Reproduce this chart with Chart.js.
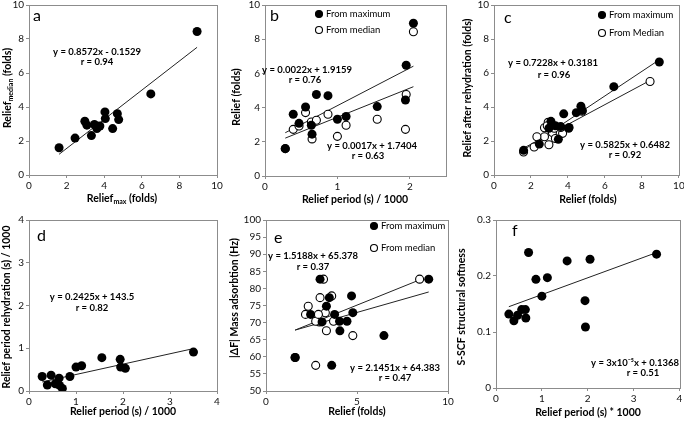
<!DOCTYPE html>
<html lang="en">
<head>
<meta charset="UTF-8" />
<title>Relief correlations</title>
<script src="https://cdn.jsdelivr.net/npm/chart.js"></script>
<style>
  body { margin: 0; background: #fff; }
  #fig { position: relative; width: 684px; height: 421px; }
  #fig canvas { position: absolute; }
</style>
</head>
<body>
<div id="fig">
  <canvas id="pa" width="228" height="205" style="left:0px;top:0px"></canvas>
  <canvas id="pb" width="228" height="205" style="left:228px;top:0px"></canvas>
  <canvas id="pc" width="228" height="205" style="left:456px;top:0px"></canvas>
  <canvas id="pd" width="228" height="216" style="left:0px;top:205px"></canvas>
  <canvas id="pe" width="228" height="216" style="left:228px;top:205px"></canvas>
  <canvas id="pf" width="228" height="216" style="left:456px;top:205px"></canvas>
</div>
<script>
// one entry per sample
const reliefMax      = [1.6, 3.61, 3.08, 4.04, 2.97, 2.45, 4.77, 4.7, 3.32, 3.48, 4.06, 4.45, 6.48, 8.94, 3.77];
const reliefMedian   = [1.6, 2.73, 2.93, 3.71, 3.16, 2.17, 3.26, 3.61, 2.32, 2.97, 3.32, 2.73, 4.77, 8.44, 2.88];
const reliefPeriod   = [0.28, 0.39, 0.47, 0.56, 0.64, 0.65, 0.71, 0.87, 1.0, 1.12, 1.55, 1.94, 1.95, 2.05, 3.5]; // s / 1000
const rehydPeriod    = [0.34, 0.14, 0.37, 0.17, 0.3, 0.13, 0.06, 0.34, 0.56, 0.59, 0.78, 0.74, 0.56, 0.53, 0.91];
const rehydFromMax   = [1.45, 2.85, 3.16, 2.75, 2.75, 1.82, 3.8, 4.05, 2.9, 2.1, 2.8, 3.67, 5.2, 6.65, 3.6];
const rehydFromMedian= [1.35, 2.25, 3.1, 2.45, 2.5, 1.65, 2.75, 2.8, 2.25, 1.78, 2.15, 2.78, 3.75, 5.5, 2.9];
const deltaF         = [59.8, 57.5, 70.2, 70.4, 82.7, 72.4, 72.9, 77.8, 74.8, 77.3, 67.6, 70.4, 66.2, 82.7, 72.4];
const softness       = [0.132, 0.12, 0.13, 0.14, 0.14, 0.125, 0.242, 0.194, 0.164, 0.197, 0.227, 0.156, 0.109, 0.23, 0.239];

// tick labels
const reliefTicks  = [0, 2, 4, 6, 8, 10];
const periodTicksB = [0, 1, 2];
const periodTicks  = [0, 1, 2, 3, 4];
const reliefTicksE = [0, 5, 10];
const deltaFTicks  = [50, 55, 60, 65, 70, 75, 80, 85, 90, 95, 100];
const softTicks    = [0, 0.1, 0.2, 0.3];

// trend lines [slope, intercept] as printed (b, d, f use seconds)
const fitA    = [0.8572, -0.1529];
const fitBMax = [0.0022, 1.9159];
const fitBMed = [0.0017, 1.7404];
const fitCMax = [0.7228, 0.3181];
const fitCMed = [0.5825, 0.6482];
const fitD    = [0.2425, 143.5];
const fitEMax = [1.5188, 65.378];
const fitEMed = [2.1451, 64.383];
const fitF    = [3e-5, 0.1368];

const FONT = 'Lato';
const TITLE = 'bold 10.5px ' + FONT;
const SUB = 'bold 7px ' + FONT;
const EQ = 'bold 9.5px ' + FONT;
const LEG = '9.5px ' + FONT;
const LETTER = '16px ' + FONT;

function pts(xs, ys, xmax) {
  return xs.map((x, i) => ({ x: x, y: ys[i] })).filter(p => xmax === undefined || p.x <= xmax);
}
// line endpoints over the x range of the shown points; xk/yk convert s -> s/1000
function trend(points, fit, xk, yk) {
  const xs = points.map(p => p.x);
  const lo = Math.min(...xs), hi = Math.max(...xs);
  const f = x => (fit[0] * x * xk + fit[1]) / yk;
  return [{ x: lo, y: f(lo) }, { x: hi, y: f(hi) }];
}
const filled = data => ({ data, pointRadius: 4.5, pointHoverRadius: 4.5, backgroundColor: '#000', borderColor: '#000', borderWidth: 0 });
const open = data => ({ data, pointRadius: 4, pointHoverRadius: 4, backgroundColor: '#fff', borderColor: '#000', borderWidth: 1.1 });
const line = data => ({ data, showLine: true, pointRadius: 0, borderColor: '#222', borderWidth: 1, fill: false });

function axis(pos, ticks, min, max, size) {
  return {
    type: 'linear', position: pos, min: min, max: max,
    afterBuildTicks: s => { s.ticks = ticks.map(v => ({ value: v })); },
    afterFit: s => {
      if (pos === 'left') { s.width = size; s.paddingTop = 0; s.paddingBottom = 0; }
      else { s.height = size; s.paddingLeft = 0; s.paddingRight = 0; }
    },
    grid: { display: true, drawOnChartArea: false, drawTicks: true, tickLength: 3, color: '#8c8c8c' },
    border: { display: true, color: '#8c8c8c', width: 1 },
    ticks: { color: '#111', font: { family: FONT, size: 10 }, padding: 2, maxRotation: 0, autoSkip: false }
  };
}

function rich(ctx, segs, x, y, rot, align) {
  ctx.save();
  ctx.translate(x, y);
  if (rot) ctx.rotate(-Math.PI / 2);
  let w = 0;
  segs.forEach(s => { ctx.font = s[1]; w += ctx.measureText(s[0]).width; });
  let cx = align === 'left' ? 0 : -w / 2;
  ctx.textBaseline = 'middle';
  ctx.textAlign = 'left';
  ctx.fillStyle = '#000';
  segs.forEach(s => { ctx.font = s[1]; ctx.fillText(s[0], cx, s[2] || 0); cx += ctx.measureText(s[0]).width; });
  ctx.restore();
}

function deco(d) {
  return {
    id: 'deco',
    afterDraw(chart) {
      const ctx = chart.ctx, a = chart.chartArea;
      const ox = d.ox, oy = d.oy;
      ctx.save();
      ctx.strokeStyle = '#8c8c8c';
      ctx.lineWidth = 1;
      ctx.strokeRect(Math.round(a.left) + 0.5, Math.round(a.top) + 0.5, Math.round(a.right - a.left), Math.round(a.bottom - a.top));
      ctx.restore();
      rich(ctx, d.xTitle, d.xAt[0] - ox, d.xAt[1] - oy, false);
      rich(ctx, d.yTitle, d.yAt[0] - ox, d.yAt[1] - oy, true);
      rich(ctx, [[d.letter[0], LETTER]], d.letter[1] - ox, d.letter[2] - oy, false, 'left');
      d.texts.forEach(t => rich(ctx, [[t[0], EQ]], t[1] - ox, t[2] - oy, false));
      (d.legend || []).forEach(l => {
        ctx.save();
        ctx.beginPath();
        ctx.arc(l[1] - ox, l[2] - oy, 3.5, 0, Math.PI * 2);
        ctx.fillStyle = l[3] ? '#000' : '#fff';
        ctx.fill();
        ctx.strokeStyle = '#000';
        ctx.lineWidth = 1.1;
        ctx.stroke();
        ctx.restore();
        rich(ctx, [[l[0], LEG]], l[1] + 7 - ox, l[2] - oy, false, 'left');
      });
    }
  };
}

function panel(id, box, area, datasets, xAx, yAx, d) {
  d.ox = box[0]; d.oy = box[1];
  new Chart(document.getElementById(id), {
    type: 'scatter',
    data: { datasets },
    options: {
      responsive: false, animation: false, events: [],
      layout: { padding: { left: 0, bottom: 0, top: area[1] - box[1], right: box[0] + box[2] - area[2] } },
      plugins: { legend: { display: false }, tooltip: { enabled: false } },
      scales: {
        x: axis('bottom', xAx[0], xAx[1], xAx[2], box[1] + box[3] - area[3]),
        y: axis('left', yAx[0], yAx[1], yAx[2], area[0] - box[0])
      }
    },
    plugins: [deco(d)]
  });
}

// a
const aPts = pts(reliefMax, reliefMedian);
panel('pa', [0, 0, 228, 205], [29, 5, 217, 175],
  [filled(aPts), line(trend(aPts, fitA, 1, 1))],
  [reliefTicks, 0, 10], [reliefTicks, 0, 10],
  { xTitle: [['Relief', TITLE], ['max', SUB, 3], [' (folds)', TITLE]], xAt: [122, 199],
    yTitle: [['Relief', TITLE], ['median', SUB, 3], [' (folds)', TITLE]], yAt: [8, 88],
    letter: ['a', 33, 16],
    texts: [['y = 0.8572x - 0.1529', 97, 52], ['r = 0.94', 97, 62]] });

// b
const bMax = pts(reliefPeriod, reliefMax, 2.5);
const bMed = pts(reliefPeriod, reliefMedian, 2.5);
panel('pb', [228, 0, 228, 205], [265, 5, 446, 176],
  [filled(bMax), open(bMed), line(trend(bMax, fitBMax, 1000, 1)), line(trend(bMed, fitBMed, 1000, 1))],
  [periodTicksB, 0, 2.5], [reliefTicks, 0, 10],
  { xTitle: [['Relief period (s) / 1000', TITLE]], xAt: [355, 200],
    yTitle: [['Relief (folds)', TITLE]], yAt: [237, 97],
    letter: ['b', 270, 16],
    texts: [['y = 0.0022x + 1.9159', 307, 70], ['r = 0.76', 305, 80],
            ['y = 0.0017x + 1.7404', 372, 146], ['r = 0.63', 368, 156]],
    legend: [['From maximum', 319, 14, true], ['From median', 319, 30, false]] });

// c
const cMax = pts(reliefMax, rehydFromMax);
const cMed = pts(reliefMedian, rehydFromMedian);
panel('pc', [456, 0, 228, 205], [494, 4, 679, 175],
  [filled(cMax), open(cMed), line(trend(cMax, fitCMax, 1, 1)), line(trend(cMed, fitCMed, 1, 1))],
  [reliefTicks, 0, 10], [reliefTicks, 0, 10],
  { xTitle: [['Relief (folds)', TITLE]], xAt: [588, 200],
    yTitle: [['Relief after rehydration (folds)', TITLE]], yAt: [468, 88],
    letter: ['c', 504, 18],
    texts: [['y = 0.7228x + 0.3181', 553, 63], ['r = 0.96', 554, 75],
            ['y = 0.5825x + 0.6482', 625, 145], ['r = 0.92', 625, 155]],
    legend: [['From maximum', 602, 15, true], ['From Median', 602, 33, false]] });

// d
const dPts = pts(reliefPeriod, rehydPeriod);
panel('pd', [0, 205, 228, 216], [29, 220, 217, 391],
  [filled(dPts), line(trend(dPts, fitD, 1000, 1000))],
  [periodTicks, 0, 4], [periodTicks, 0, 4],
  { xTitle: [['Relief period (s) / 1000', TITLE]], xAt: [123, 412],
    yTitle: [['Relief period rehydration (s) / 1000', TITLE]], yAt: [7, 307],
    letter: ['d', 37, 236],
    texts: [['y = 0.2425x + 143.5', 92, 297], ['r = 0.82', 92, 308]] });

// e
const eMax = pts(reliefMax, deltaF);
const eMed = pts(reliefMedian, deltaF);
panel('pe', [228, 205, 228, 216], [266, 220, 448, 391],
  [filled(eMax), open(eMed), line(trend(eMax, fitEMax, 1, 1)), line(trend(eMed, fitEMed, 1, 1))],
  [reliefTicksE, 0, 10], [deltaFTicks, 50, 100],
  { xTitle: [['Relief (folds)', TITLE]], xAt: [357, 412],
    yTitle: [['|ΔF| Mass adsorbtion (Hz)', TITLE]], yAt: [235, 298],
    letter: ['e', 274, 238],
    texts: [['y = 1.5188x + 65.378', 313, 256], ['r = 0.37', 313, 267],
            ['y = 2.1451x + 64.383', 395, 368], ['r = 0.47', 395, 378]],
    legend: [['From maximum', 374, 226, true], ['From median', 374, 248, false]] });

// f
const fPts = pts(reliefPeriod, softness);
panel('pf', [456, 205, 228, 216], [496, 220, 681, 388],
  [filled(fPts), line(trend(fPts, fitF, 1000, 1))],
  [periodTicks, 0, 4], [softTicks, 0, 0.3],
  { xTitle: [['Relief period (s) * 1000', TITLE]], xAt: [588, 413],
    yTitle: [['S-SCF structural softness', TITLE]], yAt: [462, 307],
    letter: ['f', 512, 231],
    texts: [['y = 3x10⁻⁵x + 0.1368', 635, 363], ['r = 0.51', 643, 373]] });
</script>
</body>
</html>
